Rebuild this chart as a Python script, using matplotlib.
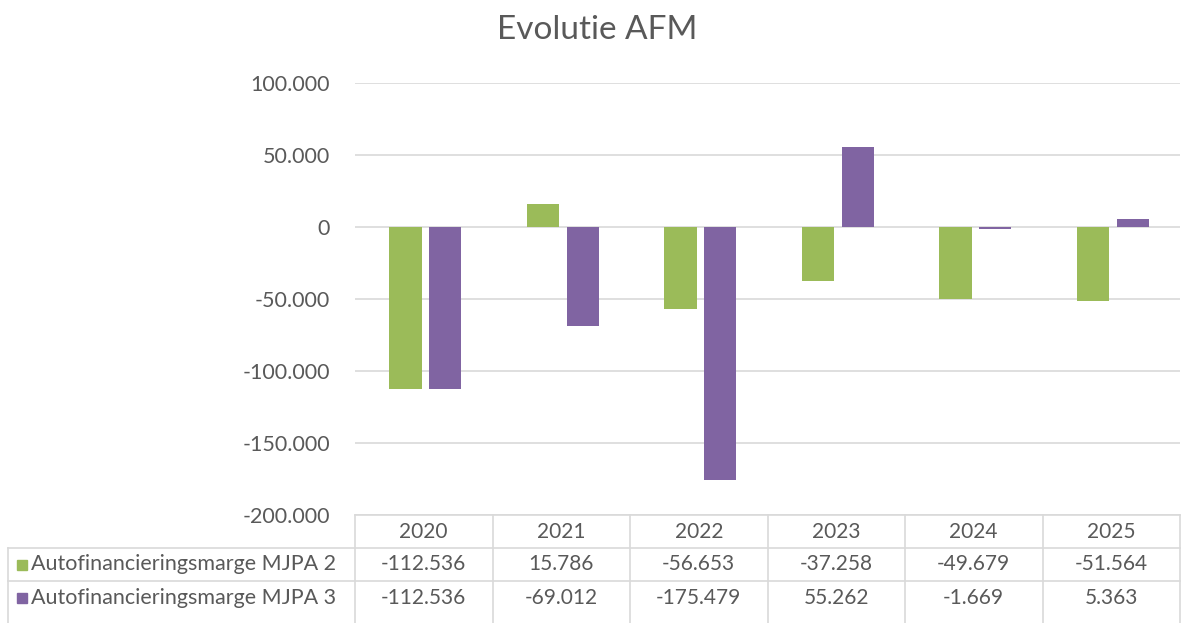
import matplotlib.pyplot as plt
import matplotlib.transforms as mtransforms

years = ['2020', '2021', '2022', '2023', '2024', '2025']
series_names = ['Autofinancieringsmarge MJPA 2', 'Autofinancieringsmarge MJPA 3']
mjpa2 = [-112536, 15786, -56653, -37258, -49679, -51564]
mjpa3 = [-112536, -69012, -175479, 55262, -1669, 5363]
colors = ['#9BBB59', '#8064A2']

plt.rcParams['font.family'] = ['Lato', 'DejaVu Sans']
txt = '#595959'
grid = '#D9D9D9'

W, H = 1191, 623
fig = plt.figure(figsize=(W / 100, H / 100), dpi=100)
ax = fig.add_axes([355 / W, 108 / H, 825 / W, 432 / H])

n = len(years)
xs = list(range(n))
bw = 0.235
off = 0.145
ax.bar([x - off + 0.012 for x in xs], mjpa2, width=bw, color=colors[0], zorder=3)
ax.bar([x + off + 0.012 for x in xs], mjpa3, width=bw, color=colors[1], zorder=3)

ax.set_xlim(-0.5, n - 0.5)
ax.set_ylim(-200000, 100000)
yt = list(range(-200000, 100001, 50000))
ax.set_yticks(yt)
ax.set_yticklabels([f'{v:,}'.replace(',', '.') for v in yt], fontsize=15.5, color=txt)
ax.tick_params(axis='y', length=0, pad=18)
ax.set_xticks([])
for v in yt:
    ax.axhline(v, color=grid, lw=1.2, zorder=1)
for s in ax.spines.values():
    s.set_visible(False)

fig.text(597 / W, 1 - 30 / H, 'Evolutie AFM', ha='center', va='center', fontsize=24, color=txt)

# data table below the plot, in figure pixel rows
trans = mtransforms.blended_transform_factory(ax.transData, fig.transFigure)
ftrans = fig.transFigure
def fy(py):
    return 1 - py / H

rows = [515, 548, 581, 615]
# horizontal lines
ax.plot([-0.5, n - 0.5], [fy(rows[0])] * 2, transform=trans, color=grid, lw=1.2, clip_on=False)
for r in rows[1:3]:
    fig.add_artist(plt.Line2D([8 / W, 1180 / W], [fy(r)] * 2, color=grid, lw=1.2))
# vertical lines
for i in range(n + 1):
    ax.plot([i - 0.5] * 2, [fy(rows[0]), 0], transform=trans, color=grid, lw=1.2, clip_on=False)
fig.add_artist(plt.Line2D([8 / W] * 2, [fy(rows[1]), 0], color=grid, lw=1.2))

for i, y in enumerate(years):
    ax.text(i, fy((rows[0] + rows[1]) / 2), y, transform=trans, ha='center', va='center', fontsize=15, color=txt)
for r, (name, vals, c) in enumerate(zip(series_names, [mjpa2, mjpa3], colors)):
    yc = fy((rows[r + 1] + rows[r + 2]) / 2)
    fig.add_artist(plt.Rectangle((17 / W, yc - 5 / H), 10 / W, 10 / H, color=c, transform=ftrans))
    fig.text(31 / W, yc, name, ha='left', va='center', fontsize=15.5, color=txt)
    for i, v in enumerate(vals):
        ax.text(i, yc, f'{v:,}'.replace(',', '.'), transform=trans, ha='center', va='center', fontsize=15, color=txt)

fig.savefig('out.png', dpi=100)
